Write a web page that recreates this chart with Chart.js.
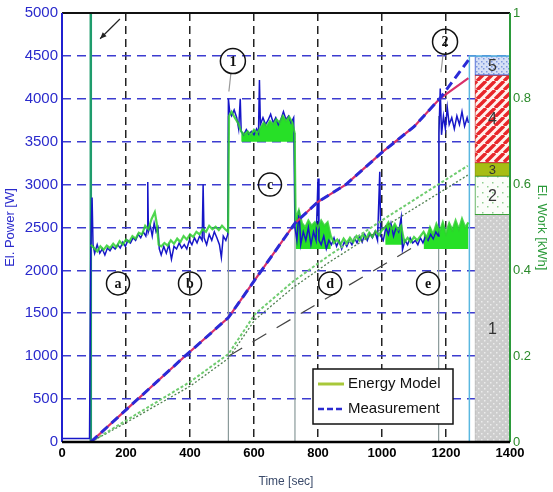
<!DOCTYPE html>
<html>
<head>
<meta charset="utf-8">
<script src="https://cdn.jsdelivr.net/npm/chart.js@4.4.0/dist/chart.umd.min.js"></script>
<style>
  html, body { margin: 0; padding: 0; background: #fff; }
</style>
</head>
<body>
<canvas id="chart" width="553" height="492"></canvas>
<script>
'use strict';

// measured electrical power [W]
const powerTime = [0, 86, 90, 94, 97, 102, 110, 118, 126, 134, 142, 150, 158, 166, 174, 182, 190, 198, 206, 214, 222, 230, 238, 246, 254, 262, 266, 268, 270, 276, 282, 288, 294, 300, 304, 310, 318, 326, 334, 342, 350, 358, 366, 374, 382, 390, 398, 406, 414, 422, 430, 438, 441, 444, 452, 460, 468, 476, 484, 492, 498, 504, 512, 518, 520, 524, 530, 538, 546, 552, 557, 560, 568, 576, 584, 592, 600, 608, 614, 617, 620, 628, 636, 644, 652, 660, 668, 676, 684, 692, 700, 708, 716, 724, 728, 734, 741, 746, 754, 762, 770, 778, 786, 794, 800, 803, 810, 818, 826, 834, 842, 850, 858, 866, 874, 882, 890, 898, 906, 914, 922, 930, 938, 946, 954, 962, 970, 978, 986, 993, 996, 1004, 1012, 1020, 1028, 1036, 1044, 1052, 1060, 1064, 1072, 1080, 1088, 1096, 1104, 1112, 1120, 1128, 1136, 1144, 1152, 1160, 1168, 1176, 1178, 1182, 1186, 1192, 1198, 1204, 1210, 1218, 1226, 1234, 1242, 1250, 1258, 1266, 1270];
const powerMeas = [40, 40, 2250, 2850, 2300, 2200, 2300, 2200, 2250, 2180, 2260, 2230, 2280, 2250, 2300, 2260, 2330, 2280, 2350, 2320, 2380, 2350, 2420, 2380, 2450, 2400, 2480, 3030, 2450, 2520, 2400, 2550, 2450, 2500, 2250, 2180, 2280, 2200, 2300, 2130, 2280, 2250, 2320, 2260, 2300, 2250, 2350, 2300, 2380, 2320, 2400, 2350, 3000, 2380, 2300, 2420, 2350, 2450, 2380, 2300, 2150, 2400, 2350, 2420, 4000, 3850, 3800, 3870, 3780, 3650, 4000, 3620, 3580, 3640, 3590, 3620, 3580, 3650, 3600, 4220, 3700, 3780, 3700, 3750, 3820, 3720, 3780, 3700, 3760, 3850, 3760, 3800, 3720, 3780, 2500, 2350, 2700, 2300, 2450, 2350, 2500, 2300, 2450, 2350, 3070, 2350, 2300, 2400, 2250, 2350, 2300, 2380, 2280, 2350, 2250, 2330, 2280, 2350, 2300, 2380, 2320, 2400, 2330, 2420, 2350, 2430, 2380, 2450, 2350, 3150, 2400, 2350, 2500, 2420, 2550, 2400, 2500, 2450, 2620, 2240, 2350, 2300, 2380, 2320, 2350, 2300, 2380, 2320, 2400, 2350, 2420, 2370, 2450, 2400, 3600, 4120, 3580, 3800, 3650, 3900, 3700, 3780, 3650, 3800, 3700, 3850, 3680, 3780, 3720];

// modelled electrical power [W]
const modelTime = [90, 100, 110, 120, 130, 140, 150, 160, 170, 180, 190, 200, 210, 220, 230, 240, 250, 260, 270, 280, 290, 296, 302, 310, 320, 330, 340, 350, 360, 370, 380, 390, 400, 410, 420, 430, 440, 450, 460, 470, 480, 490, 500, 510, 519, 522, 530, 540, 550, 560, 570, 580, 590, 600, 610, 620, 630, 640, 650, 660, 670, 680, 690, 700, 710, 720, 727, 730, 740, 750, 760, 770, 780, 790, 800, 810, 820, 830, 840, 850, 860, 870, 880, 890, 900, 910, 920, 930, 940, 950, 960, 970, 980, 990, 1000, 1010, 1020, 1030, 1040, 1050, 1060, 1066, 1070, 1080, 1090, 1100, 1110, 1120, 1130, 1140, 1150, 1160, 1170, 1180, 1190, 1200, 1210, 1220, 1230, 1240, 1250, 1260, 1270];
const modelPower = [2300, 2260, 2220, 2280, 2240, 2290, 2260, 2310, 2270, 2340, 2300, 2360, 2330, 2400, 2370, 2440, 2420, 2520, 2480, 2600, 2680, 2550, 2300, 2280, 2320, 2290, 2350, 2310, 2370, 2330, 2400, 2360, 2420, 2390, 2450, 2420, 2480, 2450, 2520, 2480, 2510, 2470, 2520, 2480, 2450, 3800, 3850, 3780, 3720, 3620, 3580, 3620, 3580, 3640, 3600, 3660, 3720, 3680, 3740, 3700, 3760, 3720, 3800, 3740, 3790, 3720, 3600, 2600, 2700, 2550, 2500, 2580, 2520, 2560, 2500, 2580, 2520, 2560, 2400, 2320, 2360, 2300, 2370, 2320, 2380, 2330, 2400, 2350, 2420, 2370, 2440, 2390, 2460, 2410, 2470, 2500, 2560, 2480, 2540, 2470, 2520, 2400, 2330, 2380, 2330, 2390, 2350, 2400, 2450, 2380, 2500, 2420, 2540, 2450, 2560, 2430, 2550, 2470, 2580, 2480, 2600, 2500, 2560];

// shaded model bands: start, end, lower edge [W]
const bandStart = [556, 730, 1010, 1128];
const bandEnd = [728, 845, 1066, 1270];
const bandBase = [3500, 2250, 2300, 2250];

// electrical work [kWh]
const energyTime = [90, 200, 384, 520, 600, 728, 800, 887, 1000, 1100, 1180, 1270];
const energyMeas = [0, 0.075, 0.2, 0.29, 0.375, 0.51, 0.56, 0.6, 0.675, 0.735, 0.8, 0.89];
const energyRef = [0, 0.075, 0.2, 0.29, 0.375, 0.51, 0.56, 0.6, 0.675, 0.735, 0.8, 0.848];
const workTime = [90, 200, 400, 520, 603, 722, 837, 1015, 1268];
const workModel = [0, 0.05, 0.14, 0.205, 0.298, 0.374, 0.436, 0.524, 0.644];
const workModel2 = [0, 0.045, 0.13, 0.195, 0.285, 0.36, 0.42, 0.505, 0.622];
const trendTime = [520, 1100];
const trendWork = [0.2, 0.455];

// vertical markers
const startTime = [90, 90];
const startPower = [0, 5000];
const stepTime = [520, 728, 1177];
const stepTop = [3800, 3600, 3800];
const endTime = [1273, 1273, 1400];
const endPower = [0, 4500, 4500];

// energy breakdown bar [kWh]
const barTime = 1345;
const barEdges = [0, 0.53, 0.62, 0.651, 0.855, 0.9];
const barNames = ['1', '2', '3', '4', '5'];

// circled notes
const noteLabels = ['a', 'b', 'c', 'd', 'e', '1', '2'];
const noteTime = [175, 400, 650, 838, 1144, 534, 1197];
const notePower = [1848, 1848, 3000, 1848, 1848, 4440, 4665];

const xTicks = [0, 200, 400, 600, 800, 1000, 1200, 1400];


function pts(xs, ys) { return xs.map((t, i) => ({ x: t, y: ys[i] })); }

function pattern(size, bg, draw) {
  const c = document.createElement('canvas');
  c.width = size;
  c.height = size;
  const g = c.getContext('2d');
  g.fillStyle = bg;
  g.fillRect(0, 0, size, size);
  draw(g, size);
  return g.createPattern(c, 'repeat');
}

function dots(color, list) {
  return (g) => {
    g.fillStyle = color;
    for (let p of list) g.fillRect(p[0], p[1], 1.5, 1.5);
  };
}

const patGray = pattern(6, '#cdcdcd', dots('#ececec', [[1, 1], [4, 4]]));
const patGreen = pattern(10, '#fbfdf9', dots('#8fcf8f', [[2, 2], [7, 6]]));
const patRed = pattern(9, '#fff2ee', (g, s) => {
  g.strokeStyle = '#e8262a';
  g.lineWidth = 3.4;
  g.beginPath();
  for (let k = -1; k <= 1; k++) {
    g.moveTo(k * s, s);
    g.lineTo(k * s + s, 0);
  }
  g.stroke();
});
const patBlue = pattern(5, '#d6e0f6', dots('#7f97dd', [[1, 1], [3, 3]]));

const fills = bandStart.map((s, i) => ({
  data: pts(modelTime, modelPower).filter(p => p.x >= s && p.x <= bandEnd[i]),
  yAxisID: 'y',
  borderWidth: 0,
  backgroundColor: '#27e027',
  fill: { value: bandBase[i] },
}));

const stepData = [];
stepTime.forEach((t, i) => {
  stepData.push({ x: t, y: 0 }, { x: t, y: stepTop[i] }, { x: t, y: null });
});

const decorations = {
  id: 'decorations',
  afterDatasetsDraw(chart) {
    const { ctx, chartArea: a, scales } = chart;
    const x = scales.x, y = scales.y, y2 = scales.y2;
    ctx.save();

    // frame
    const edge = (x1, y1, x2, y2_, color, w) => {
      ctx.strokeStyle = color;
      ctx.lineWidth = w;
      ctx.beginPath();
      ctx.moveTo(x1, y1);
      ctx.lineTo(x2, y2_);
      ctx.stroke();
    };
    edge(a.left, a.top, a.right, a.top, '#111', 2);
    edge(a.left, a.top, a.left, a.bottom, '#2020d0', 2);
    edge(a.right, a.top, a.right, a.bottom, '#2b9a3a', 2);
    edge(a.left, a.bottom, a.right, a.bottom, '#000', 2.5);

    // arrow towards the start line
    const ax1 = x.getPixelForValue(181), ay1 = y.getPixelForValue(4930);
    const ax2 = x.getPixelForValue(119), ay2 = y.getPixelForValue(4700);
    edge(ax1, ay1, ax2, ay2, '#222', 1.2);
    const ang = Math.atan2(ay2 - ay1, ax2 - ax1);
    ctx.fillStyle = '#222';
    ctx.beginPath();
    ctx.moveTo(ax2, ay2);
    ctx.lineTo(ax2 - 7 * Math.cos(ang - 0.4), ay2 - 7 * Math.sin(ang - 0.4));
    ctx.lineTo(ax2 - 7 * Math.cos(ang + 0.4), ay2 - 7 * Math.sin(ang + 0.4));
    ctx.closePath();
    ctx.fill();

    // circled notes
    ctx.textAlign = 'center';
    ctx.textBaseline = 'middle';
    noteLabels.forEach((txt, i) => {
      const cx = x.getPixelForValue(noteTime[i]);
      const cy = y.getPixelForValue(notePower[i]);
      const r = /\d/.test(txt) ? 12.5 : 11.5;
      if (/\d/.test(txt)) edge(cx - 2, cy + r, cx - 4, cy + r + 18, '#999', 1.2);
      ctx.strokeStyle = '#111';
      ctx.lineWidth = 1.5;
      ctx.beginPath();
      ctx.arc(cx, cy, r, 0, Math.PI * 2);
      ctx.stroke();
      ctx.fillStyle = '#111';
      ctx.font = 'bold 14px "Liberation Serif", serif';
      ctx.fillText(txt, cx, cy + 1);
    });

    // bar labels
    ctx.fillStyle = '#333';
    barNames.forEach((n, i) => {
      const mid = (barEdges[i] + barEdges[i + 1]) / 2;
      ctx.font = (i === 2 ? '13px' : '16px') + ' "Liberation Sans", sans-serif';
      ctx.fillText(n, x.getPixelForValue(barTime), y2.getPixelForValue(mid) + 1);
    });

    // legend box
    const lx = a.right - 197, ly = a.bottom - 73;
    ctx.fillStyle = '#fff';
    ctx.fillRect(lx, ly, 140, 55);
    ctx.strokeStyle = '#111';
    ctx.lineWidth = 1.5;
    ctx.strokeRect(lx, ly, 140, 55);
    edge(lx + 5, ly + 15, lx + 31, ly + 15, '#a8c83a', 3);
    ctx.setLineDash([6, 3]);
    edge(lx + 5, ly + 40, lx + 31, ly + 40, '#2a2ad0', 2.5);
    ctx.setLineDash([]);
    ctx.fillStyle = '#111';
    ctx.textAlign = 'left';
    ctx.font = '15px "Liberation Sans", sans-serif';
    ctx.fillText('Energy Model', lx + 35, ly + 15);
    ctx.fillText('Measurement', lx + 35, ly + 40);

    ctx.restore();
  }
};

Chart.defaults.font.family = '"Liberation Sans", Arial, sans-serif';

new Chart(document.getElementById('chart'), {
  type: 'line',
  data: {
    datasets: [
      {
        data: pts(energyTime, energyMeas), yAxisID: 'y2',
        borderColor: '#2a2ad6', borderWidth: 3, borderDash: [9, 5],
      },
      {
        data: pts(energyTime, energyRef), yAxisID: 'y2',
        borderColor: '#d8306a', borderWidth: 2.2,
      },
      {
        data: pts(workTime, workModel), yAxisID: 'y2',
        borderColor: '#6fcc6f', borderWidth: 2, borderDash: [3, 2],
      },
      {
        data: pts(workTime, workModel2), yAxisID: 'y2',
        borderColor: '#4f7f4f', borderWidth: 1.3, borderDash: [2, 2],
      },
      {
        data: pts(trendTime, trendWork), yAxisID: 'y2',
        borderColor: '#444', borderWidth: 1.2, borderDash: [16, 12],
      },
      {
        data: pts(modelTime, modelPower), yAxisID: 'y',
        borderColor: 'rgba(48, 208, 48, 0.85)', borderWidth: 2.2,
      },
      {
        data: pts(powerTime, powerMeas), yAxisID: 'y',
        borderColor: '#1616c8', borderWidth: 1.5,
      },
      ...fills,
      {
        data: stepData, yAxisID: 'y', spanGaps: false,
        borderColor: '#8a9a9a', borderWidth: 1.2,
      },
      {
        data: pts(startTime, startPower), yAxisID: 'y',
        borderColor: '#1e9c6c', borderWidth: 2.5,
      },
      {
        data: pts(endTime, endPower), yAxisID: 'y',
        borderColor: '#5ab8e0', borderWidth: 1.5,
      },
      {
        type: 'bar', yAxisID: 'y2',
        data: barEdges.slice(0, -1).map((lo, i) => ({ x: barTime, y: [lo, barEdges[i + 1]] })),
        backgroundColor: [patGray, patGreen, '#a6bd14', patRed, patBlue],
        borderColor: ['#bbb', '#3aa03a', '#8a9a10', '#d04040', '#3050d0'],
        borderWidth: 1,
        borderSkipped: false,
        barThickness: 35,
        grouped: false,
      },
    ]
  },
  options: {
    responsive: false,
    animation: false,
    layout: { padding: { top: 9 } },
    elements: { point: { radius: 0 }, line: { tension: 0, fill: false } },
    plugins: { legend: { display: false }, tooltip: { enabled: false } },
    scales: {
      x: {
        type: 'linear', min: 0, max: 1400, offset: false,
        afterBuildTicks(s) { s.ticks = xTicks.map(v => ({ value: v })); },
        afterFit(s) { s.height = 50; },
        grid: {
          offset: false, drawTicks: false, lineWidth: 1.5,
          color: c => (c.tick && (c.tick.value === 0 || c.tick.value === 1400)) ? 'rgba(0,0,0,0)' : '#222',
        },
        border: { display: false, dash: [8, 5] },
        ticks: { padding: 4, color: '#000', maxRotation: 0, autoSkip: false, font: { size: 13, weight: 'bold' }, callback: v => String(v) },
        title: { display: true, text: 'Time [sec]', color: '#3a4a6a', font: { size: 12 }, padding: { top: 0, bottom: 3 } },
      },
      y: {
        type: 'linear', position: 'left', min: 0, max: 5000,
        afterFit(s) { s.width = 62; },
        grid: {
          drawTicks: false, lineWidth: 1.6,
          color: c => (c.tick && (c.tick.value === 0 || c.tick.value === 5000)) ? 'rgba(0,0,0,0)' : '#3c3cd0',
        },
        border: { display: false, dash: [9, 6] },
        ticks: { stepSize: 500, padding: 4, color: '#2a2acc', font: { size: 15 }, callback: v => String(v) },
        title: { display: true, text: 'El. Power [W]', color: '#2a2acc', font: { size: 13 }, padding: { top: 3, bottom: 0 } },
      },
      y2: {
        type: 'linear', position: 'right', min: 0, max: 1,
        afterFit(s) { s.width = 43; },
        grid: { display: false, drawTicks: false },
        border: { display: false },
        ticks: { stepSize: 0.2, padding: 3, color: '#2b8a2b', font: { size: 13 }, callback: v => String(+v.toFixed(1)) },
        title: { display: true, text: 'El. Work [kWh]', color: '#2b9a3a', font: { size: 13 }, padding: { top: 4, bottom: 0 } },
      },
    }
  },
  plugins: [decorations]
});
</script>
</body>
</html>
